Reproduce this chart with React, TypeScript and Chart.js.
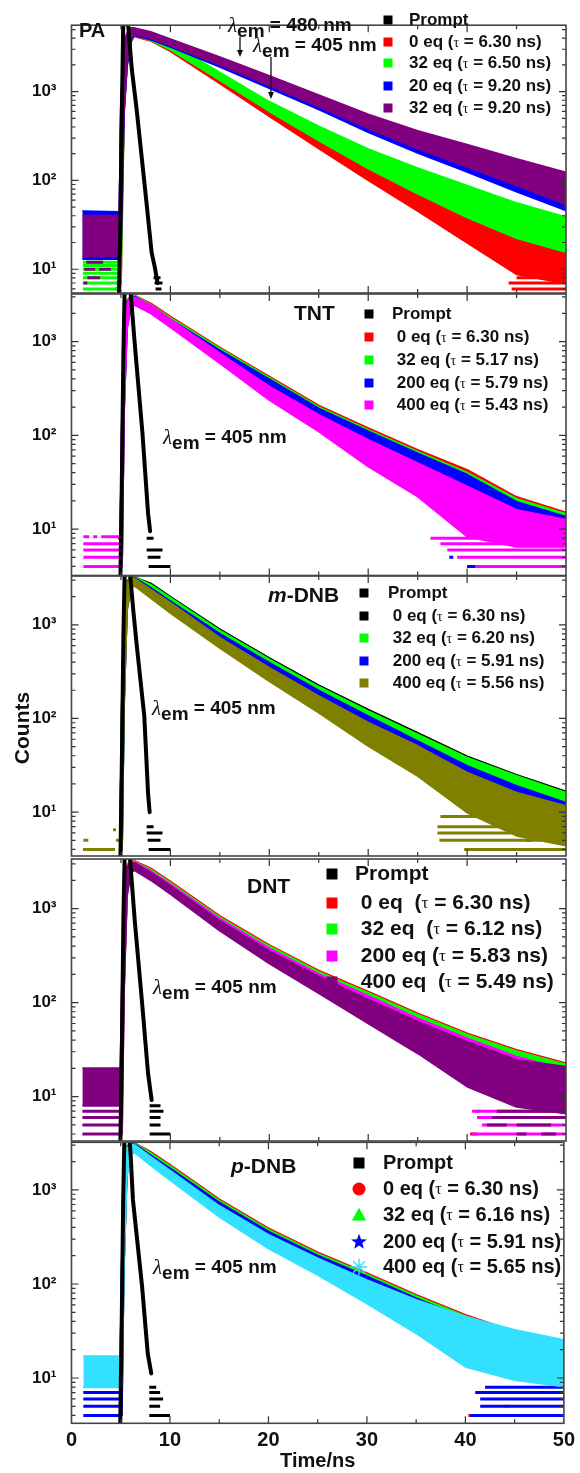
import React, { useEffect, useRef } from "react";
import { Chart, registerables } from "chart.js";

Chart.register(...registerables);

const FONT = "'Liberation Sans', Arial, Helvetica, sans-serif";
const SERIF = "'Liberation Serif', 'Times New Roman', serif";

// ---------- axes / ticks ----------
const X_TICKS = [0, 10, 20, 30, 40, 50];
const X_MAJOR = [10, 20, 30, 40];
const X_MINOR = [5, 15, 25, 35, 45];
const Y_MAJOR = [10, 100, 1000];
const Y_TICK_LABELS = ["10¹", "10²", "10³"];
const Y_MINOR = [4, 5, 6, 7, 8, 9, 20, 30, 40, 50, 60, 70, 80, 90, 200, 300, 400, 500, 600, 700, 800, 900, 2000, 3000, 4000, 5000];

// ---------- colours ----------
const BLACK = "#000000";
const RED = "#ff0000";
const GREEN = "#00ff00";
const BLUE = "#0000ff";
const PURPLE = "#800080";
const MAGENTA = "#ff00ff";
const OLIVE = "#808000";
const CYAN = "#33e0ff";

// ---------- Panel 1 : PA ----------
const PA_PROMPT_T = [4.8, 4.95, 5.1, 5.25, 5.5, 5.75, 6.09, 6.59, 7.1, 7.6, 8.1, 8.44, 8.7];
const PA_PROMPT_Y = [5.4, 40, 700, 8000, 8000, 5300, 1820, 626, 182, 54, 15.5, 10.3, 7];
const PA_PROMPT_FLOOR = [[8.3, 9.0, 8], [8.4, 9.2, 7], [8.5, 9.1, 6]];
const PA_T_LONG = [1.1, 4.85, 5.0, 5.3, 5.6, 6.0, 6.3, 8, 10, 15, 20, 25, 30, 35, 40, 45, 50];
const PA_PURPLE_HI = [40, 40, 700, 3000, 4500, 5200, 5200, 4710, 3900, 2445, 1507, 914, 553, 361, 252, 175, 123];
const PA_PURPLE_LO = [14, 14, 20, 600, 2000, 3800, 4400, 4000, 3310, 2010, 1178, 680, 386, 228, 142, 88, 54];
const PA_BLUE_HI = [45, 44, 650, 2900, 4400, 5100, 5100, 4600, 3800, 2380, 1460, 880, 530, 345, 240, 165, 116];
const PA_BLUE_LO = [13, 13, 18, 580, 1900, 3700, 4300, 3850, 3200, 1900, 1100, 630, 350, 205, 125, 75, 46];
const PA_T = [4.9, 5.0, 5.3, 5.6, 6.0, 6.3, 8, 10, 15, 20, 25, 30, 35, 40, 45, 50];
const PA_GREEN_HI = [12, 500, 2900, 4400, 5100, 5100, 4490, 3510, 1636, 769, 406, 225, 137, 87, 55.6, 38.4];
const PA_GREEN_LO = [6, 8, 600, 2000, 3700, 4300, 3810, 2980, 1343, 601, 283, 137, 71, 38.4, 22.5, 15.6];
const PA_RED_HI = [8, 400, 2800, 4300, 5000, 5000, 4420, 3370, 1507, 680, 330, 171, 95, 53, 30, 19.9];
const PA_RED_LO = [6, 7, 600, 2000, 3600, 4200, 3750, 2860, 1237, 531, 230, 101, 45.3, 19.9, 8.8, 6.9];
const PA_PURPLE_FLOOR = [[1.5, 3.2, 12], [1.3, 2.4, 10], [2.8, 4.0, 10], [1.6, 2.9, 8], [1.2, 1.6, 7]];
const PA_GREEN_FLOOR = [[1.15, 4.8, 6], [1.15, 4.8, 7], [1.15, 4.8, 8], [1.15, 4.8, 9], [1.15, 4.8, 10], [1.15, 4.8, 11], [1.15, 4.8, 12]];
const PA_RED_FLOOR = [[4.4, 4.8, 6], [4.5, 4.8, 7], [44.5, 50, 6], [44.2, 50, 7], [45, 50, 8], [46, 50, 9]];
const PA_LABELS = ["Prompt", "0 eq (τ = 6.30 ns)", "32 eq (τ = 6.50 ns)", "20 eq (τ = 9.20 ns)", "32 eq (τ = 9.20 ns)"];

// ---------- shared time grid for panels 2-5 ----------
const T_DECAY = [4.95, 5.1, 5.3, 5.6, 6.0, 6.4, 8, 10, 15, 20, 25, 30, 35, 40, 45, 50];

// ---------- Panel 2 : TNT ----------
const TNT_PROMPT_T = [4.95, 5.1, 5.25, 5.4, 5.8, 6.0, 6.42, 7.17, 7.74, 7.95];
const TNT_PROMPT_Y = [3.2, 40, 800, 5000, 5000, 3150, 886, 107, 14.8, 9.5];
const TNT_PROMPT_FLOOR = [[7.6, 8.3, 8], [7.6, 9.2, 6], [7.7, 9.0, 5], [7.8, 10.0, 4]];
const TNT_RED_HI = [9, 150, 1500, 2700, 3100, 3100, 2564, 1849, 865, 424, 208, 119, 70, 42.9, 22, 15];
const TNT_RED_LO = [4, 4, 200, 1500, 2500, 2600, 2178, 1570, 710, 332, 155, 79, 39.5, 20.6, 12.6, 9.1];
const TNT_GREEN_HI = [9, 140, 1450, 2650, 3050, 3050, 2490, 1790, 840, 410, 200, 114, 67, 40, 21, 14.5];
const TNT_GREEN_LO = [4, 4, 190, 1450, 2450, 2550, 2110, 1520, 690, 322, 150, 76, 38, 19.5, 12, 8.7];
const TNT_BLUE_HI = [9, 130, 1400, 2600, 3000, 3000, 2400, 1720, 805, 395, 193, 110, 64, 38, 19.5, 13.5];
const TNT_BLUE_LO = [4, 4, 180, 1400, 2400, 2500, 2030, 1460, 660, 305, 142, 72, 35, 17.5, 10.5, 8];
const TNT_MAG_HI = [9, 120, 1350, 2550, 2950, 2950, 2462, 1733, 751, 332, 165.5, 89.5, 50.6, 28.5, 16, 12.6];
const TNT_MAG_LO = [4, 4, 170, 1350, 2350, 2450, 2010, 1422, 588, 239, 110, 46.6, 22.3, 8.35, 6.5, 6.5];
const TNT_MAG_FLOOR = [[1.2, 5.0, 4], [1.2, 5.0, 5], [1.2, 5.0, 6], [1.2, 5.0, 7], [1.2, 1.8, 8.3], [2.2, 2.6, 8.3], [3.0, 5.0, 8.3],
  [36.3, 50, 8], [37.3, 50, 7], [38, 50, 6], [39, 50, 5], [40.8, 50, 4]];
const TNT_BLUE_FLOOR = [[40, 41, 4], [44, 46, 4], [38.2, 38.6, 5]];
const TNT_RED_FLOOR = [[4.7, 5.0, 8], [47.5, 48, 4]];
const TNT_LABELS = ["Prompt", " 0 eq (τ = 6.30 ns)", " 32 eq (τ = 5.17 ns)", " 200 eq (τ = 5.79 ns)", " 400 eq (τ = 5.43 ns)"];

// ---------- Panel 3 : m-DNB ----------
const MDNB_PROMPT_T = [4.95, 5.1, 5.25, 5.4, 5.8, 6.0, 6.24, 6.6, 7.36, 7.74, 7.9];
const MDNB_PROMPT_Y = [3.4, 40, 800, 5000, 5000, 2800, 1455, 600, 106, 16, 10];
const MDNB_PROMPT_FLOOR = [[7.6, 8.3, 7], [7.6, 9.2, 6], [7.7, 9.0, 5], [7.8, 10.0, 4]];
const MDNB_BLACK_HI = [9, 150, 1200, 2900, 3200, 3200, 2770, 1990, 895, 440, 225, 124, 70, 39.3, 25, 16.6];
const MDNB_BLACK_LO = [4, 4, 150, 1500, 2600, 2700, 2350, 1690, 735, 344, 168, 82, 39.3, 18.8, 11, 7.3];
const MDNB_GREEN_HI = [9, 150, 1200, 2900, 3200, 3200, 2687, 1936, 869, 427, 218, 120, 67.6, 38.2, 24.3, 16.1];
const MDNB_GREEN_LO = [4, 4, 150, 1500, 2600, 2700, 2280, 1644, 714, 334, 163, 79.6, 38.2, 18.3, 10.7, 7.1];
const MDNB_BLUE_HI = [9, 140, 1150, 2850, 3150, 3150, 2475, 1785, 802, 393, 198, 106, 57.4, 31.1, 19, 12.6];
const MDNB_BLUE_LO = [4, 4, 140, 1450, 2550, 2650, 2100, 1516, 658, 308, 147, 70.5, 32.4, 14.9, 8.4, 6.6];
const MDNB_OLIVE_HI = [9, 130, 1100, 2800, 3100, 3100, 2376, 1714, 726, 347, 173, 90, 50.8, 26.4, 16.1, 11.6];
const MDNB_OLIVE_LO = [4, 4, 130, 1400, 2500, 2600, 1936, 1341, 568, 250, 115, 50.8, 24.3, 9.9, 5.6, 4.4];
const MDNB_OLIVE_FLOOR = [[1.2, 4.4, 4], [1.2, 1.7, 5], [4.5, 5.0, 5], [4.2, 4.5, 6.5],
  [37.3, 50, 9], [37, 50, 7], [37, 50, 6], [37.2, 50, 5], [39.7, 50, 4]];
const MDNB_BLUE_FLOOR = [[1.2, 1.4, 4], [3.9, 4.2, 4], [44.6, 45.1, 4], [47.4, 47.9, 4], [46, 46.5, 5]];
const MDNB_LABELS = ["Prompt", " 0 eq (τ = 6.30 ns)", " 32 eq (τ = 6.20 ns)", " 200 eq (τ = 5.91 ns)", " 400 eq (τ = 5.56 ns)"];

// ---------- Panel 4 : DNT ----------
const DNT_PROMPT_T = [4.95, 5.1, 5.25, 5.4, 5.8, 6.0, 6.42, 7.17, 7.74, 8.1];
const DNT_PROMPT_Y = [3.4, 40, 800, 5000, 5000, 2600, 697, 90.6, 17.7, 9.2];
const DNT_PROMPT_FLOOR = [[7.9, 9.0, 8], [7.9, 9.3, 7], [7.9, 9.0, 6], [7.9, 9.0, 5], [7.9, 10.0, 4]];
const DNT_RED_HI = [9, 150, 1200, 2900, 3200, 3200, 2683, 1936, 833, 410, 219, 131, 76.9, 47.1, 31.3, 22.6];
const DNT_RED_LO = [4, 4, 150, 1500, 2600, 2700, 2279, 1644, 685, 321, 163, 86.9, 43.4, 22.6, 13.8, 10];
const DNT_GREEN_HI = [9, 140, 1150, 2850, 3150, 3150, 2600, 1880, 808, 398, 212, 127, 74.6, 45.7, 30.4, 21.9];
const DNT_GREEN_LO = [4, 4, 145, 1450, 2550, 2650, 2210, 1595, 664, 311, 158, 84.3, 42.1, 21.9, 13.4, 9.7];
const DNT_MAG_HI = [9, 130, 1100, 2800, 3100, 3100, 2515, 1813, 781, 378, 201, 118, 68, 41.7, 26.6, 19.2];
const DNT_MAG_LO = [4, 4, 140, 1400, 2500, 2600, 2136, 1540, 632, 291, 145, 73.9, 35.4, 17.7, 9.2, 7.8];
const DNT_T_LONG = [1.1, 4.95, 5.1, 5.3, 5.6, 6.0, 6.4, 8, 10, 15, 20, 25, 30, 35, 40, 45, 50];
const DNT_PURPLE_HI = [20, 20, 120, 1050, 2750, 3050, 3050, 2413, 1740, 738, 354, 189, 108, 62.7, 38.5, 24.5, 20.8];
const DNT_PURPLE_LO = [8, 8, 8, 130, 1350, 2450, 2550, 2016, 1431, 582, 262, 126, 60.3, 28.9, 12.8, 7.8, 6.6];
const DNT_PURPLE_FLOOR = [[1.1, 5.0, 4], [1.1, 5.0, 5], [1.1, 5.0, 6], [1.1, 5.0, 7],
  [42, 44, 5], [45, 48.5, 5], [42.5, 50, 6], [43, 50, 7], [45, 46, 4], [47.5, 49, 4]];
const DNT_MAG_FLOOR = [[40.5, 50, 4], [41.5, 50, 5], [41, 50, 6], [40.5, 50, 7], [4.7, 5.0, 4]];
const DNT_GREEN_FLOOR = [[41.5, 42, 6], [40.8, 41.3, 7]];
const DNT_RED_FLOOR = [[40.3, 41, 4]];
const DNT_LABELS = ["Prompt", " 0 eq  (τ = 6.30 ns)", " 32 eq  (τ = 6.12 ns)", " 200 eq (τ = 5.83 ns)", " 400 eq  (τ = 5.49 ns)"];

// ---------- Panel 5 : p-DNB ----------
const PDNB_PROMPT_T = [4.95, 5.1, 5.25, 5.4, 5.8, 6.0, 6.24, 7.17, 7.74, 8.1];
const PDNB_PROMPT_Y = [3.3, 40, 800, 5000, 5000, 2400, 782, 93.5, 18.3, 11.2];
const PDNB_PROMPT_FLOOR = [[7.9, 8.6, 8], [7.9, 9.0, 7], [7.9, 9.3, 6], [7.9, 9.0, 5], [7.9, 10.0, 4]];
const PDNB_RED_HI = [9, 150, 1200, 2900, 3150, 3150, 2555, 1845, 795, 391, 217, 130, 76.3, 46.8, 31.1, 23.3];
const PDNB_RED_LO = [4, 4, 150, 1500, 2550, 2650, 2168, 1566, 653, 306, 162, 86.3, 43.1, 22.4, 13.7, 10.3];
const PDNB_GREEN_HI = [9, 140, 1150, 2850, 3100, 3100, 2480, 1790, 771, 379, 210, 126, 74, 45.4, 30.2, 22.6];
const PDNB_GREEN_LO = [4, 4, 145, 1450, 2500, 2600, 2100, 1520, 633, 297, 157, 83.7, 41.8, 21.7, 13.3, 10];
const PDNB_BLUE_HI = [9, 130, 1100, 2800, 3050, 3050, 2354, 1699, 733, 360, 200, 120, 70.3, 43.1, 28.6, 21.5];
const PDNB_BLUE_LO = [4, 4, 140, 1400, 2450, 2550, 2000, 1443, 602, 282, 147, 76.3, 36.6, 18.3, 11.2, 8.8];
const PDNB_T_LONG = [1.2, 4.95, 5.1, 5.3, 5.6, 6.0, 6.4, 8, 10, 15, 20, 25, 30, 35, 40, 45, 50];
const PDNB_CYAN_HI = [17, 17, 110, 1050, 2750, 3000, 3000, 2261, 1604, 675, 332, 187, 110, 67.5, 44.9, 32.4, 25.4];
const PDNB_CYAN_LO = [8, 8, 8, 130, 1350, 2400, 2500, 1845, 1276, 520, 239, 125, 62.2, 29.9, 13.2, 9.5, 8.1];
const PDNB_BLUE_FLOOR = [[1.2, 4.9, 4], [1.2, 4.9, 5], [1.2, 4.9, 6], [1.2, 4.9, 7],
  [40.5, 50, 4], [41.5, 50, 5], [41.5, 50, 6], [41, 50, 7], [42, 50, 8]];
const PDNB_RED_FLOOR = [[40.3, 41, 4], [41.6, 42, 4], [4.8, 5.0, 5]];
const PDNB_GREEN_FLOOR = [[42.5, 43, 4], [44, 44.4, 5]];
const PDNB_LABELS = ["Prompt", "0 eq (τ = 6.30 ns)", "32 eq (τ = 6.16 ns)", "200 eq (τ = 5.91 ns)", "400 eq (τ = 5.65 ns)"];

// ---------- dataset helpers ----------
function bandDatasets(T: number[], hi: number[], lo: number[], color: string) {
  const base = {
    borderColor: color, backgroundColor: color, borderWidth: 2, pointRadius: 0,
    pointHoverRadius: 0, tension: 0, clip: 0, borderJoinStyle: "bevel",
  };
  return [
    { ...base, data: T.map((t, i) => ({ x: t, y: hi[i] })), fill: false },
    { ...base, data: T.map((t, i) => ({ x: t, y: lo[i] })), fill: "-1" },
  ];
}
function floorDataset(segs: number[][], color: string) {
  const data: any[] = [];
  segs.forEach(([t0, t1, c]) => {
    data.push({ x: t0, y: c }, { x: t1, y: c }, { x: t1, y: null });
  });
  return {
    data, borderColor: color, backgroundColor: color, borderWidth: 3, pointRadius: 0,
    pointHoverRadius: 0, fill: false, spanGaps: false, clip: 0, borderCapStyle: "butt",
  };
}
function curveDataset(T: number[], Y: number[], color: string) {
  return {
    data: T.map((t, i) => ({ x: t, y: Y[i] })), borderColor: color, backgroundColor: color,
    borderWidth: 4, pointRadius: 0, pointHoverRadius: 0, fill: false, clip: 0,
    borderJoinStyle: "round", borderCapStyle: "round", tension: 0,
  };
}

// ---------- text helpers ----------
type Run = { t: string; f: string; dy?: number };
function drawRuns(ctx: CanvasRenderingContext2D, x: number, y: number, runs: Run[]) {
  ctx.textBaseline = "middle";
  ctx.textAlign = "left";
  let cx = x;
  for (const r of runs) {
    ctx.font = r.f;
    ctx.fillText(r.t, cx, y + (r.dy || 0));
    cx += ctx.measureText(r.t).width;
  }
}
const bold = (s: number) => `bold ${s}px ${FONT}`;
function lambdaRuns(value: string): Run[] {
  return [
    { t: "λ", f: `italic 21px ${SERIF}` },
    { t: "em", f: bold(19), dy: 6 },
    { t: value, f: bold(19) },
  ];
}
function labelRuns(label: string, size: number): Run[] {
  const i = label.indexOf("τ");
  if (i < 0) return [{ t: label, f: bold(size) }];
  return [
    { t: label.slice(0, i), f: bold(size) },
    { t: "τ", f: `${Math.round(size * 0.8)}px ${SERIF}`, dy: 1 },
    { t: label.slice(i + 1), f: bold(size) },
  ];
}
function drawMarker(ctx: CanvasRenderingContext2D, shape: string, x: number, y: number, s: number, color: string) {
  ctx.fillStyle = color;
  ctx.strokeStyle = color;
  ctx.beginPath();
  if (shape === "rect") {
    ctx.fillRect(x - s / 2, y - s / 2, s, s);
  } else if (shape === "circle") {
    ctx.arc(x, y, s / 2 + 1, 0, Math.PI * 2);
    ctx.fill();
  } else if (shape === "triangle") {
    ctx.moveTo(x, y - s * 0.65);
    ctx.lineTo(x + s * 0.65, y + s * 0.5);
    ctx.lineTo(x - s * 0.65, y + s * 0.5);
    ctx.closePath();
    ctx.fill();
  } else if (shape === "star") {
    const R = s * 0.75, r = R * 0.42;
    for (let k = 0; k < 10; k++) {
      const rad = k % 2 === 0 ? R : r;
      const a = -Math.PI / 2 + (k * Math.PI) / 5;
      const px = x + rad * Math.cos(a), py = y + rad * Math.sin(a);
      if (k === 0) ctx.moveTo(px, py); else ctx.lineTo(px, py);
    }
    ctx.closePath();
    ctx.fill();
  } else if (shape === "asterisk") {
    const R = s * 0.75;
    ctx.lineWidth = 1.4;
    for (let k = 0; k < 4; k++) {
      const a = (k * Math.PI) / 4;
      ctx.moveTo(x - R * Math.cos(a), y - R * Math.sin(a));
      ctx.lineTo(x + R * Math.cos(a), y + R * Math.sin(a));
    }
    ctx.stroke();
  }
}

// ---------- panel definitions ----------
const PANELS: any[] = [
  {
    top: 11, bottom: 293, yMin: 5.4, yMax: 5600,
    datasets: () => [
      curveDataset(PA_PROMPT_T, PA_PROMPT_Y, BLACK),
      floorDataset(PA_PROMPT_FLOOR, BLACK),
      ...bandDatasets(PA_T_LONG, PA_PURPLE_HI, PA_PURPLE_LO, PURPLE),
      floorDataset(PA_PURPLE_FLOOR, PURPLE),
      ...bandDatasets(PA_T_LONG, PA_BLUE_HI, PA_BLUE_LO, BLUE),
      ...bandDatasets(PA_T, PA_GREEN_HI, PA_GREEN_LO, GREEN),
      floorDataset(PA_GREEN_FLOOR, GREEN),
      ...bandDatasets(PA_T, PA_RED_HI, PA_RED_LO, RED),
      floorDataset(PA_RED_FLOOR, RED),
    ],
    texts: [
      { x: 79, y: 31, runs: [{ t: "PA", f: bold(20) }] },
      { x: 228, y: 26, runs: lambdaRuns(" = 480 nm") },
      { x: 253, y: 46, runs: lambdaRuns(" = 405 nm") },
    ],
    arrows: [[240, 37, 240, 57], [271, 57, 271, 99]],
    legend: { mx: 388, tx: 409, rows: [20, 42, 63, 86, 108], size: 17, box: 9,
      labels: PA_LABELS, colors: [BLACK, RED, GREEN, BLUE, PURPLE], shapes: ["rect", "rect", "rect", "rect", "rect"] },
  },
  {
    top: 294, bottom: 575.5, yMin: 3.2, yMax: 3220,
    datasets: () => [
      curveDataset(TNT_PROMPT_T, TNT_PROMPT_Y, BLACK),
      floorDataset(TNT_PROMPT_FLOOR, BLACK),
      ...bandDatasets(T_DECAY, TNT_MAG_HI, TNT_MAG_LO, MAGENTA),
      floorDataset(TNT_MAG_FLOOR, MAGENTA),
      ...bandDatasets(T_DECAY, TNT_BLUE_HI, TNT_BLUE_LO, BLUE),
      floorDataset(TNT_BLUE_FLOOR, BLUE),
      ...bandDatasets(T_DECAY, TNT_GREEN_HI, TNT_GREEN_LO, GREEN),
      ...bandDatasets(T_DECAY, TNT_RED_HI, TNT_RED_LO, RED),
      floorDataset(TNT_RED_FLOOR, RED),
    ],
    texts: [
      { x: 294, y: 314, runs: [{ t: "TNT", f: bold(21) }] },
      { x: 163, y: 438, runs: lambdaRuns(" = 405 nm") },
    ],
    arrows: [],
    legend: { mx: 369, tx: 392, rows: [314, 337, 360, 383, 405], size: 17, box: 9,
      labels: TNT_LABELS, colors: [BLACK, RED, GREEN, BLUE, MAGENTA], shapes: ["rect", "rect", "rect", "rect", "rect"] },
  },
  {
    top: 576, bottom: 856, yMin: 3.4, yMax: 3320, counts: true,
    datasets: () => [
      curveDataset(MDNB_PROMPT_T, MDNB_PROMPT_Y, BLACK),
      floorDataset(MDNB_PROMPT_FLOOR, BLACK),
      ...bandDatasets(T_DECAY, MDNB_OLIVE_HI, MDNB_OLIVE_LO, OLIVE),
      floorDataset(MDNB_OLIVE_FLOOR, OLIVE),
      ...bandDatasets(T_DECAY, MDNB_BLUE_HI, MDNB_BLUE_LO, BLUE),
      floorDataset(MDNB_BLUE_FLOOR, BLUE),
      ...bandDatasets(T_DECAY, MDNB_GREEN_HI, MDNB_GREEN_LO, GREEN),
      ...bandDatasets(T_DECAY, MDNB_BLACK_HI, MDNB_BLACK_LO, BLACK),
    ],
    texts: [
      { x: 268, y: 596, runs: [{ t: "m", f: `italic bold 21px ${FONT}` }, { t: "-DNB", f: bold(21) }] },
      { x: 152, y: 709, runs: lambdaRuns(" = 405 nm") },
    ],
    arrows: [],
    legend: { mx: 364, tx: 388, rows: [593, 616, 638, 661, 683], size: 17, box: 9,
      labels: MDNB_LABELS, colors: [BLACK, BLACK, GREEN, BLUE, OLIVE], shapes: ["rect", "rect", "rect", "rect", "rect"] },
  },
  {
    top: 859, bottom: 1141, yMin: 3.37, yMax: 3375,
    datasets: () => [
      curveDataset(DNT_PROMPT_T, DNT_PROMPT_Y, BLACK),
      floorDataset(DNT_PROMPT_FLOOR, BLACK),
      ...bandDatasets(DNT_T_LONG, DNT_PURPLE_HI, DNT_PURPLE_LO, PURPLE),
      floorDataset(DNT_PURPLE_FLOOR, PURPLE),
      ...bandDatasets(T_DECAY, DNT_MAG_HI, DNT_MAG_LO, MAGENTA),
      floorDataset(DNT_MAG_FLOOR, MAGENTA),
      ...bandDatasets(T_DECAY, DNT_GREEN_HI, DNT_GREEN_LO, GREEN),
      floorDataset(DNT_GREEN_FLOOR, GREEN),
      ...bandDatasets(T_DECAY, DNT_RED_HI, DNT_RED_LO, RED),
      floorDataset(DNT_RED_FLOOR, RED),
    ],
    texts: [
      { x: 247, y: 887, runs: [{ t: "DNT", f: bold(21) }] },
      { x: 153, y: 988, runs: lambdaRuns(" = 405 nm") },
    ],
    arrows: [],
    legend: { mx: 332, tx: 355, rows: [874, 903, 929, 956, 982], size: 21, box: 11,
      labels: DNT_LABELS, colors: [BLACK, RED, GREEN, MAGENTA, PURPLE], shapes: ["rect", "rect", "rect", "rect", "rect"] },
  },
  {
    top: 1142.3, bottom: 1423.3, yMin: 3.3, yMax: 3210, showX: true,
    datasets: () => [
      curveDataset(PDNB_PROMPT_T, PDNB_PROMPT_Y, BLACK),
      floorDataset(PDNB_PROMPT_FLOOR, BLACK),
      ...bandDatasets(PDNB_T_LONG, PDNB_CYAN_HI, PDNB_CYAN_LO, CYAN),
      ...bandDatasets(T_DECAY, PDNB_BLUE_HI, PDNB_BLUE_LO, BLUE),
      floorDataset(PDNB_BLUE_FLOOR, BLUE),
      ...bandDatasets(T_DECAY, PDNB_GREEN_HI, PDNB_GREEN_LO, GREEN),
      floorDataset(PDNB_GREEN_FLOOR, GREEN),
      ...bandDatasets(T_DECAY, PDNB_RED_HI, PDNB_RED_LO, RED),
      floorDataset(PDNB_RED_FLOOR, RED),
    ],
    texts: [
      { x: 231, y: 1167, runs: [{ t: "p", f: `italic bold 21px ${FONT}` }, { t: "-DNB", f: bold(21) }] },
      { x: 153, y: 1268, runs: lambdaRuns(" = 405 nm") },
    ],
    arrows: [],
    legend: { mx: 359, tx: 383, rows: [1163, 1189, 1215, 1242, 1267], size: 20, box: 11,
      labels: PDNB_LABELS, colors: [BLACK, RED, GREEN, BLUE, CYAN], shapes: ["rect", "circle", "triangle", "star", "asterisk"] },
  },
];

const PAGE_W = 580;
const PAGE_H = 1473;
const PLOT_LEFT = 71.5;
const PLOT_RIGHT = 566;

function makeDecor(def: any) {
  return {
    id: "decor",
    afterDraw(chart: any) {
      const { ctx, chartArea: a, scales } = chart;
      const xs = scales.x, ys = scales.y;
      ctx.save();
      // inward ticks on all four sides
      ctx.strokeStyle = "#333";
      ctx.lineWidth = 1.2;
      ctx.beginPath();
      const xt = (v: number, len: number) => {
        const p = xs.getPixelForValue(v);
        ctx.moveTo(p, a.bottom); ctx.lineTo(p, a.bottom - len);
        ctx.moveTo(p, a.top); ctx.lineTo(p, a.top + len);
      };
      X_MAJOR.forEach((v) => xt(v, 7));
      X_MINOR.forEach((v) => xt(v, 4));
      const yt = (v: number, len: number) => {
        if (v < def.yMin || v > def.yMax) return;
        const p = ys.getPixelForValue(v);
        ctx.moveTo(a.left, p); ctx.lineTo(a.left + len, p);
        ctx.moveTo(a.right, p); ctx.lineTo(a.right - len, p);
      };
      Y_MAJOR.forEach((v) => yt(v, 7));
      Y_MINOR.forEach((v) => yt(v, 4));
      ctx.stroke();
      // frame
      ctx.lineWidth = 1.6;
      ctx.strokeStyle = "#444";
      ctx.strokeRect(a.left, a.top, a.right - a.left, a.bottom - a.top);
      // annotation texts
      ctx.fillStyle = "#111";
      for (const tx of def.texts) drawRuns(ctx, tx.x, tx.y, tx.runs);
      // arrows
      ctx.strokeStyle = "#111";
      ctx.fillStyle = "#111";
      ctx.lineWidth = 1.3;
      for (const [x0, y0, x1, y1] of def.arrows) {
        ctx.beginPath();
        ctx.moveTo(x0, y0); ctx.lineTo(x1, y1 - 5);
        ctx.stroke();
        ctx.beginPath();
        ctx.moveTo(x1, y1); ctx.lineTo(x1 - 3, y1 - 7); ctx.lineTo(x1 + 3, y1 - 7);
        ctx.closePath();
        ctx.fill();
      }
      // legend
      const L = def.legend;
      L.labels.forEach((lab: string, i: number) => {
        drawMarker(ctx, L.shapes[i], L.mx, L.rows[i], L.box, L.colors[i]);
        ctx.fillStyle = "#111";
        drawRuns(ctx, L.tx, L.rows[i], labelRuns(lab, L.size));
      });
      // shared y title
      if (def.counts) {
        ctx.save();
        ctx.translate(23, 728);
        ctx.rotate(-Math.PI / 2);
        ctx.fillStyle = "#111";
        ctx.font = bold(21);
        ctx.textAlign = "center";
        ctx.textBaseline = "middle";
        ctx.fillText("Counts", 0, 0);
        ctx.restore();
      }
      ctx.restore();
    },
  };
}

function Panel({ def }: { def: any }) {
  const ref = useRef<HTMLCanvasElement>(null);
  useEffect(() => {
    const canvas = ref.current!;
    const showX = !!def.showX;
    const chart = new Chart(canvas, {
      type: "line",
      data: { datasets: def.datasets() },
      plugins: [makeDecor(def)],
      options: {
        responsive: false,
        animation: false,
        events: [],
        layout: {
          padding: {
            left: 0,
            right: PAGE_W - PLOT_RIGHT,
            top: def.top,
            bottom: showX ? 0 : PAGE_H - def.bottom,
          },
        },
        plugins: { legend: { display: false }, tooltip: { enabled: false } },
        scales: {
          x: {
            type: "linear",
            min: 0,
            max: 50,
            display: showX,
            afterBuildTicks: (s: any) => { s.ticks = X_TICKS.map((v) => ({ value: v })); },
            afterFit: (s: any) => { s.height = showX ? PAGE_H - def.bottom : 0; },
            ticks: { font: { family: FONT, size: 20, weight: "bold" }, color: "#111", padding: 5, maxRotation: 0, autoSkip: false },
            grid: { display: false, drawTicks: false },
            border: { display: false },
            title: { display: showX, text: "Time/ns", font: { family: FONT, size: 20, weight: "bold" }, color: "#111", padding: { top: 0, bottom: 0 } },
          },
          y: {
            type: "logarithmic",
            min: def.yMin,
            max: def.yMax,
            afterBuildTicks: (s: any) => { s.ticks = Y_MAJOR.map((v) => ({ value: v })); },
            afterFit: (s: any) => { s.width = PLOT_LEFT; },
            ticks: {
              callback: (v: any) => {
                const i = Y_MAJOR.indexOf(Number(v));
                return i >= 0 ? Y_TICK_LABELS[i] : "";
              },
              font: { family: FONT, size: 17, weight: "bold" },
              color: "#111",
              padding: 15,
              autoSkip: false,
            },
            grid: { display: false, drawTicks: false },
            border: { display: false },
          },
        },
      } as any,
    });
    return () => chart.destroy();
  }, []);
  return (
    <canvas
      ref={ref}
      width={PAGE_W}
      height={PAGE_H}
      style={{ position: "absolute", left: 0, top: 0, width: PAGE_W, height: PAGE_H }}
    />
  );
}

export default function App() {
  return (
    <div style={{ position: "absolute", left: 0, top: 0, width: PAGE_W, height: PAGE_H, background: "#fff" }}>
      {PANELS.map((p, i) => (
        <Panel key={i} def={p} />
      ))}
    </div>
  );
}
